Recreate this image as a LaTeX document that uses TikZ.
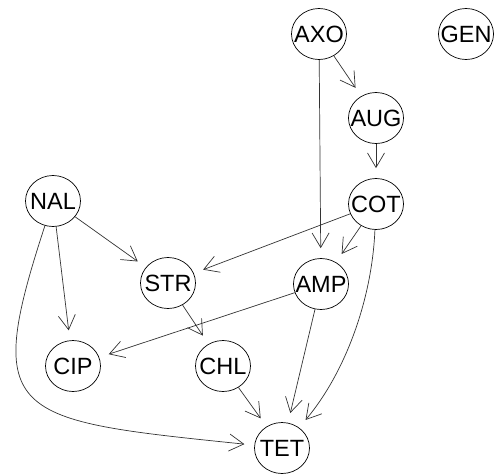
\documentclass[tikz,border=0pt]{standalone}
\usepackage{fontspec}
\setmainfont{Liberation Sans}
\usetikzlibrary{arrows.meta,shapes.geometric}

\begin{document}
\begin{tikzpicture}[x=1pt,y=1pt,
    drug/.style={ellipse,draw,line width=0.7pt,minimum width=55pt,minimum height=51pt,inner sep=-6pt,font=\fontsize{23.5}{26}\selectfont},
    link/.style={draw=black!80,line width=0.7pt,-{Straight Barb[length=14.5pt,width=17pt]},shorten >=10pt}]
    % frame
    \useasboundingbox (0,0) rectangle (494,-474);
    % drugs
    \node[drug] (AXO) at (319,-34) {AXO};
    \node[drug] (GEN) at (466,-34) {GEN};
    \node[drug] (AUG) at (376,-118) {AUG};
    \node[drug] (COT) at (376,-204) {COT};
    \node[drug] (NAL) at (53,-201) {NAL};
    \node[drug] (STR) at (168,-283) {STR};
    \node[drug] (AMP) at (321,-284) {AMP};
    \node[drug] (CIP) at (73,-366) {CIP};
    \node[drug] (CHL) at (223,-366) {CHL};
    \node[drug] (TET) at (282,-448) {TET};
    % straight links
    \foreach \a/\b in {AXO/AUG, AXO/AMP, AUG/COT, COT/STR, COT/AMP, NAL/STR, NAL/CIP, STR/CHL, AMP/CIP, AMP/TET, CHL/TET} {
        \draw[link] (\a) -- (\b);
    }
    % curved links
    \draw[link] (COT) .. controls (372,-300) and (345,-373) .. (TET);
    \draw[link] (NAL) .. controls (-18,-418) and (10,-420) .. (TET);
\end{tikzpicture}
\end{document}
